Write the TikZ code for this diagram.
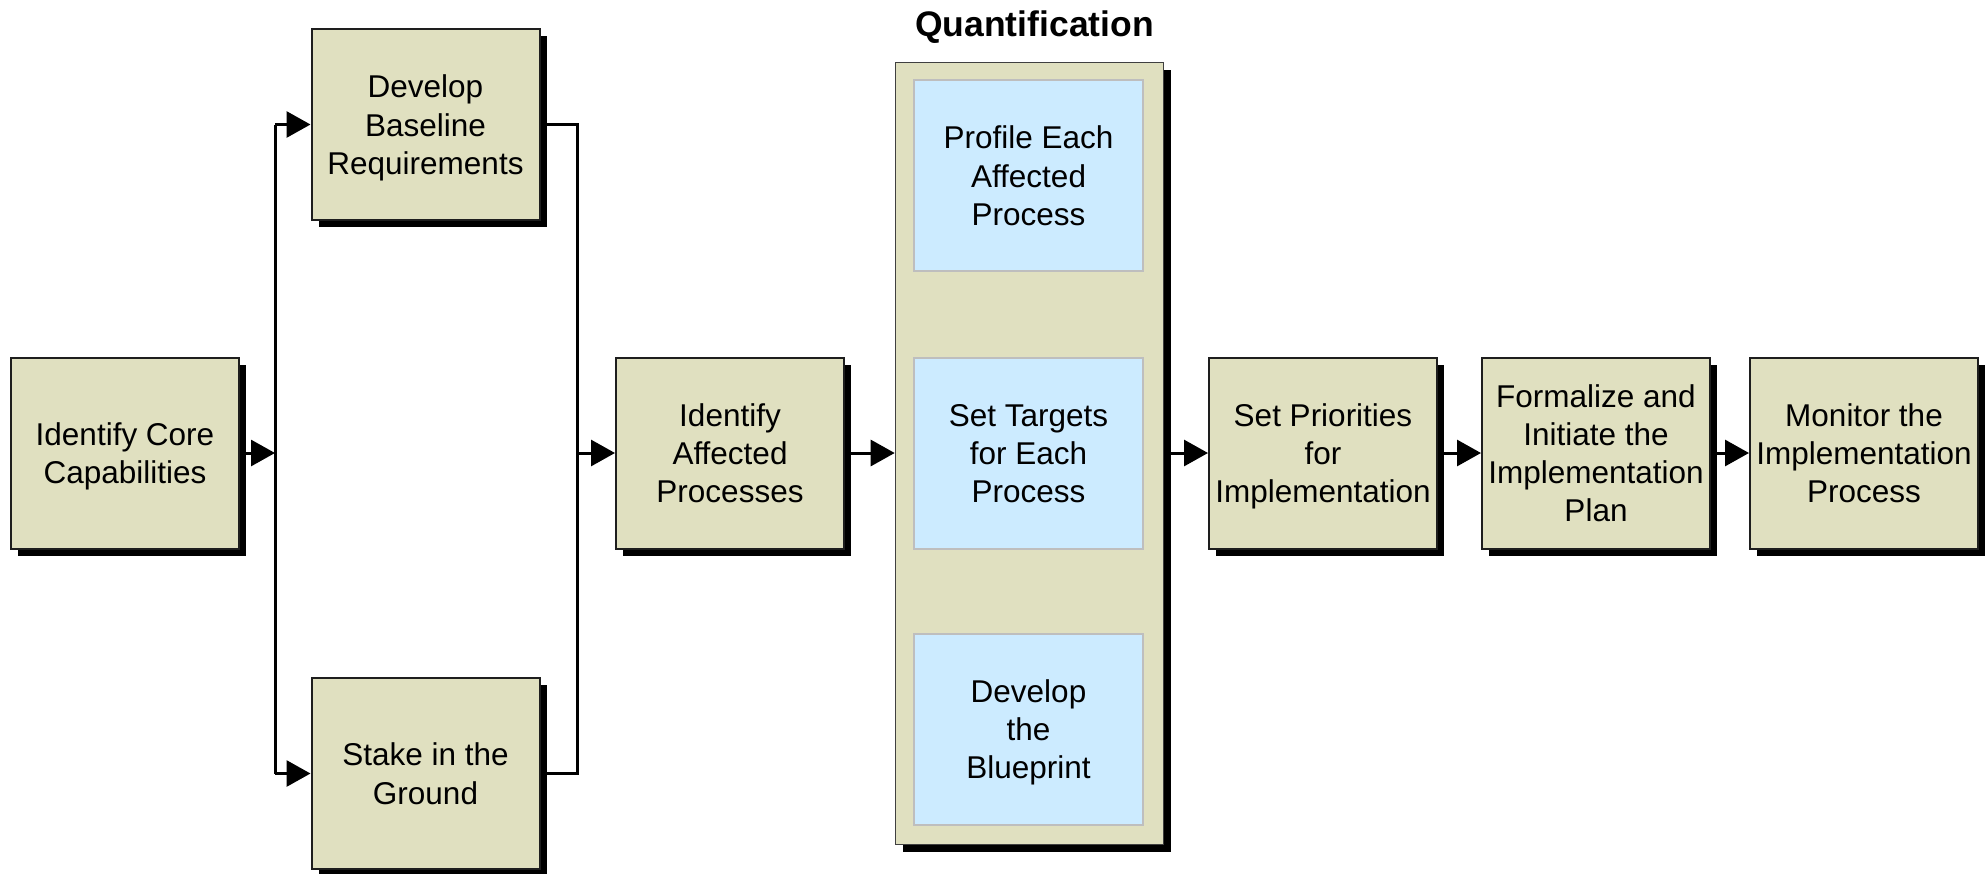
\documentclass[tikz,border=0pt]{standalone}
\usepackage{fontspec}
\setmainfont{Liberation Sans}
\usetikzlibrary{arrows.meta,shadows}
\definecolor{stepfill}{RGB}{224,224,192}
\definecolor{subfill}{RGB}{204,235,255}
\definecolor{subline}{RGB}{190,190,190}
\definecolor{edgeline}{RGB}{30,30,30}
% struts that give every label the same first-line height and last-line depth
\newcommand\topstrut{\vrule width 0pt height 31pt depth 0pt}
\newcommand\botstrut{\vrule width 0pt height 0pt depth 8pt}
\tikzset{
  blockshadow/.style={drop shadow={shadow xshift=7pt, shadow yshift=-7pt, fill=black, opacity=1}},
  boxtext/.style={inner sep=0pt, align=center,
    font=\fontsize{31.5}{38.3}\selectfont},
  stepbox/.style={draw=edgeline, line width=2pt, fill=stepfill, blockshadow,
    minimum width=228pt, minimum height=191pt, boxtext},
  subbox/.style={draw=subline, line width=2pt, fill=subfill,
    minimum width=229pt, minimum height=191pt, boxtext},
  groupbox/.style={draw=black!75, line width=1.6pt, fill=stepfill, blockshadow,
    minimum width=268pt, minimum height=782pt, inner sep=0pt},
  wire/.style={line width=3pt, black},
  arr/.style={wire, -{Triangle[length=24pt,width=26pt]}},
}
\begin{document}
\begin{tikzpicture}[x=1pt, y=-1pt]
\useasboundingbox (0,0) rectangle (1988,873);

% grouped quantification steps
\node[groupbox] (quant) at (1029.5,453.5) {};
\node[font=\fontsize{35.5}{40}\selectfont\bfseries, anchor=base] (qtitle) at (1034.5,36) {Quantification};
\node[subbox] (profile) at (1028.5,175.5) {\topstrut Profile Each\\Affected\\Process\botstrut};
\node[subbox] (targets) at (1028.5,453) {\topstrut Set Targets\\for Each\\Process\botstrut};
\node[subbox] (blueprint) at (1028.5,729) {\topstrut Develop\\the\\Blueprint\botstrut};

% main steps
\node[stepbox] (core) at (125,453) {\topstrut Identify Core\\Capabilities\botstrut};
\node[stepbox] (base) at (425.5,124.5) {\topstrut Develop\\Baseline\\Requirements\botstrut};
\node[stepbox] (stake) at (425.5,773.5) {\topstrut Stake in the\\Ground\botstrut};
\node[stepbox] (affected) at (730,453) {\topstrut Identify\\Affected\\Processes\botstrut};
\node[stepbox] (priorities) at (1323,453) {\topstrut Set Priorities\\for\\Implementation\botstrut};
\node[stepbox] (formalize) at (1596,453) {\topstrut Formalize and\\Initiate the\\Implementation\\Plan\botstrut};
\node[stepbox] (monitor) at (1864,453) {\topstrut Monitor the\\Implementation\\Process\botstrut};

% split and merge rails
\coordinate (lTop) at (275,124.5);
\coordinate (lMid) at (275,453);
\coordinate (lBot) at (275,773.5);
\coordinate (rTop) at (577,124.5);
\coordinate (rMid) at (577,453);
\coordinate (rBot) at (577,773.5);

\draw[arr] (core.east) -- (lMid);
\draw[wire] (lTop) -- (lBot);
\draw[arr] (lTop) -- (base.west);
\draw[arr] (lBot) -- (stake.west);
\draw[wire, line join=miter] (base.east) -- (rTop) -- (rBot) -- (stake.east);
\draw[arr] (rMid) -- (affected.west);

% flow to the right
\draw[arr] (affected.east) -- (affected.east -| quant.west);
\draw[arr] (quant.east |- priorities.west) -- (priorities.west);
\draw[arr] (priorities.east) -- (formalize.west);
\draw[arr] (formalize.east) -- (monitor.west);
\end{tikzpicture}
\end{document}
